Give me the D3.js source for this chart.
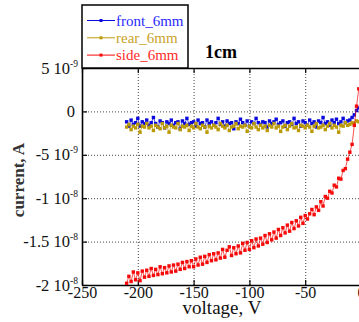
<!DOCTYPE html>
<html>
<head>
<meta charset="utf-8">
<script src="https://cdn.jsdelivr.net/npm/d3@7"></script>
<style>
  body { margin: 0; background: #fff; }
  text { font-family: "Liberation Serif", "DejaVu Serif", serif; }
</style>
</head>
<body>
<svg id="chart" width="359" height="322"></svg>
<script>
// bias sweep, V
var voltage = [-210,-208,-206,-204,-202,-200,-198,-196,-194,-192,
  -190,-188,-186,-184,-182,-180,-178,-176,-174,-172,
  -170,-168,-166,-164,-162,-160,-158,-156,-154,-152,
  -150,-148,-146,-144,-142,-140,-138,-136,-134,-132,
  -130,-128,-126,-124,-122,-120,-118,-116,-114,-112,
  -110,-108,-106,-104,-102,-100,-98,-96,-94,-92,
  -90,-88,-86,-84,-82,-80,-78,-76,-74,-72,
  -70,-68,-66,-64,-62,-60,-58,-56,-54,-52,
  -50,-48,-46,-44,-42,-40,-38,-36,-34,-32,
  -30,-28,-26,-24,-22,-20,-18,-16,-14,-12,
  -10,-8,-6,-4,-2];

// currents in units of 1e-9 A
var front_6mm = [-1.2,-1.7,-1.0,-1.5,-1.3,-0.8,-1.7,-1.2,-1.4,-1.0,
  -1.6,-1.3,-0.7,-1.4,-1.8,-1.1,-1.3,-1.9,-1.2,-1.4,
  -1.0,-1.6,-1.3,-1.2,-2.0,-1.1,-1.4,-0.8,-1.5,-1.3,
  -1.2,-1.7,-1.0,-1.4,-1.3,-1.8,-1.0,-1.4,-1.2,-1.6,
  -1.3,-0.8,-1.5,-1.2,-1.7,-1.1,-1.4,-1.3,-2.0,-1.2,
  -1.4,-0.9,-1.3,-1.6,-1.1,-1.7,-1.2,-1.4,-0.8,-1.3,
  -1.5,-1.2,-1.3,-1.8,-1.1,-1.4,-1.2,-0.9,-1.5,-1.3,
  -1.1,-1.7,-1.3,-1.2,-1.5,-0.8,-1.4,-1.2,-1.7,-1.1,
  -1.3,-1.6,-1.0,-1.4,-1.2,-1.8,-1.1,-1.3,-0.7,-1.4,
  -1.2,-1.6,-1.0,-1.3,-0.9,-1.4,-1.2,-0.8,-1.3,-1.1,
  -1.0,-0.7,-0.4,0.1,0.4];

var rear_6mm = [-1.8,-1.5,-2.1,-1.7,-1.9,-1.5,-2.4,-1.7,-1.8,-1.4,
  -1.9,-1.7,-2.2,-1.6,-1.8,-2.0,-1.4,-1.9,-1.7,-2.4,
  -1.6,-1.8,-1.9,-1.4,-2.1,-1.7,-1.8,-1.6,-2.2,-1.7,
  -1.9,-1.4,-1.8,-2.0,-1.6,-1.8,-2.4,-1.7,-1.9,-1.6,
  -1.8,-2.1,-1.4,-1.7,-1.9,-1.6,-2.2,-1.8,-1.7,-1.4,
  -2.0,-1.7,-1.8,-1.6,-2.3,-1.7,-1.9,-1.4,-1.8,-2.1,
  -1.6,-1.9,-1.7,-2.2,-1.6,-1.8,-1.4,-1.9,-1.7,-2.3,
  -1.8,-1.6,-2.1,-1.7,-1.4,-1.9,-1.8,-2.2,-1.6,-1.7,
  -1.9,-1.6,-1.8,-2.3,-1.7,-1.4,-1.9,-1.8,-1.6,-2.1,
  -1.7,-1.4,-1.9,-1.6,-1.8,-2.4,-1.6,-1.7,-1.3,-1.6,
  -1.5,-1.3,-1.4,-1.1,-1.2];

var side_6mm = [-19.8,-19.0,-19.6,-18.5,-19.4,-18.6,-19.5,-18.4,-19.1,-18.3,
  -19.0,-18.1,-18.9,-18.2,-18.8,-17.9,-18.7,-18.0,-18.6,-17.8,
  -18.5,-17.7,-18.4,-17.6,-18.2,-17.4,-18.1,-17.3,-17.9,-17.2,
  -17.9,-17.0,-17.7,-16.8,-17.6,-16.7,-17.4,-16.5,-17.2,-16.4,
  -17.1,-16.3,-16.9,-15.9,-16.8,-16.0,-15.6,-16.6,-15.7,-16.4,
  -15.5,-16.3,-15.2,-16.0,-15.1,-15.9,-14.9,-15.7,-14.7,-15.5,
  -14.6,-15.3,-14.3,-15.1,-14.1,-14.8,-13.9,-14.6,-13.6,-14.3,
  -13.4,-14.0,-13.1,-13.8,-12.8,-13.5,-12.6,-13.2,-12.2,-12.9,
  -12.0,-12.4,-11.8,-11.3,-11.9,-11.0,-11.4,-10.4,-10.9,-9.8,
  -10.0,-9.2,-9.4,-8.5,-8.7,-7.7,-7.8,-6.8,-6.6,-5.5,
  -4.7,-3.8,-1.6,0.6,2.6];

var xTicks = [-250, -200, -150, -100, -50, 0];
var yTicks = [-20, -15, -10, -5, 0, 5];
// mantissa / exponent of each y tick label
var yTickLabels = [["-2", "-8"], ["-1.5", "-8"], ["-1", "-8"], ["-5", "-9"], ["0", null], ["5", "-9"]];

var series = [
  { name: "front_6mm", values: front_6mm, color: "#0a0adc", text: "#2a2aff" },
  { name: "rear_6mm", values: rear_6mm, color: "#bb9a08", text: "#c8a22a" },
  { name: "side_6mm", values: side_6mm, color: "#f50a0a", text: "#ff2a2a" }
];

var svg = d3.select("#chart");
var mL = 82, mR = 361, mT = 68, mB = 285;

var x = d3.scaleLinear().domain([-250, 0]).range([mL, mR]);
var y = d3.scaleLinear().domain([-20, 5]).range([mB, mT]);

// grid
var grid = svg.append("g").attr("stroke", "#444").attr("stroke-width", 1).attr("stroke-dasharray", "1,2");
grid.selectAll(".gx").data(xTicks.slice(1, -1)).enter().append("line")
  .attr("x1", d => x(d) + 0.5).attr("x2", d => x(d) + 0.5)
  .attr("y1", mT).attr("y2", mB);
grid.selectAll(".gy").data(yTicks.slice(1, -1)).enter().append("line")
  .attr("x1", mL).attr("x2", mR)
  .attr("y1", d => y(d) + 0.5).attr("y2", d => y(d) + 0.5);

// axes with inward ticks
var xAxis = svg.append("g").attr("transform", "translate(0," + mB + ")")
  .call(d3.axisBottom(x).tickValues(xTicks).tickSizeInner(-5).tickSizeOuter(0).tickPadding(2)
    .tickFormat(d => String(d)));
var xTop = svg.append("g").attr("transform", "translate(0," + mT + ")")
  .call(d3.axisTop(x).tickValues(xTicks).tickSizeInner(-5).tickSizeOuter(0).tickFormat(""));
var yAxis = svg.append("g").attr("transform", "translate(" + mL + ",0)")
  .call(d3.axisLeft(y).tickValues(yTicks).tickSizeInner(-5).tickSizeOuter(0).tickFormat(""));

[xAxis, xTop, yAxis].forEach(function (g) {
  g.select(".domain").attr("stroke", "#000").attr("stroke-width", 1.6);
  g.selectAll(".tick line").attr("stroke", "#000").attr("stroke-width", 1.2);
});
xAxis.selectAll(".tick text")
  .attr("font-family", "Liberation Serif").attr("font-size", 16).attr("fill", "#111");

// y tick labels: "m 10" right-aligned, exponent as a separate raised text
yAxis.selectAll(".tick").each(function (d, i) {
  var lab = yTickLabels[i];
  var g = d3.select(this);
  if (lab[1] === null) {
    g.append("text").attr("x", -7).attr("y", 5).attr("text-anchor", "end")
      .attr("font-size", 16.5).attr("fill", "#111").text(lab[0]);
  } else {
    g.append("text").attr("x", -12).attr("y", 5).attr("text-anchor", "end")
      .attr("font-size", 16.5).attr("fill", "#111").text(lab[0] + " 10");
    g.append("text").attr("x", -12).attr("y", -2).attr("text-anchor", "start")
      .attr("font-size", 9.5).attr("fill", "#111").text(lab[1]);
  }
});

// series
series.forEach(function (s) {
  var pts = voltage.map(function (v, i) { return [v, s.values[i]]; });
  svg.append("path").datum(pts)
    .attr("fill", "none").attr("stroke", s.color).attr("stroke-width", 1).attr("stroke-opacity", 0.7)
    .attr("d", d3.line().x(d => x(d[0])).y(d => y(d[1])));
  svg.append("g").selectAll("rect").data(pts).enter().append("rect")
    .attr("x", d => x(d[0]) - 1.7).attr("y", d => y(d[1]) - 1.7)
    .attr("width", 3.4).attr("height", 3.4)
    .attr("fill", s.color);
});

// legend
var leg = svg.append("g");
leg.append("rect").attr("x", 82).attr("y", 5).attr("width", 106).attr("height", 63)
  .attr("fill", "#fff").attr("stroke", "#000").attr("stroke-width", 1.5);
series.forEach(function (s, i) {
  var ly = 20.5 + i * 17.3;
  leg.append("line").attr("x1", 87).attr("x2", 115).attr("y1", ly).attr("y2", ly)
    .attr("stroke", s.color).attr("stroke-width", 1);
  leg.append("rect").attr("x", 99.5).attr("y", ly - 1.5).attr("width", 3).attr("height", 3).attr("fill", s.color);
  leg.append("text").attr("x", 116).attr("y", ly + 5)
    .attr("font-size", 15).attr("fill", s.text).text(s.name);
});

// title and axis labels
svg.append("text").attr("x", 221).attr("y", 58).attr("text-anchor", "middle")
  .attr("font-size", 18).attr("font-weight", "bold").text("1cm");
svg.append("text").attr("x", 222).attr("y", 314).attr("text-anchor", "middle")
  .attr("font-size", 19).attr("fill", "#111").text("voltage, V");
svg.append("text").attr("transform", "translate(24,180) rotate(-90)").attr("text-anchor", "middle")
  .attr("font-size", 17).attr("font-weight", "bold").attr("fill", "#333").text("current, A");
</script>
</body>
</html>
